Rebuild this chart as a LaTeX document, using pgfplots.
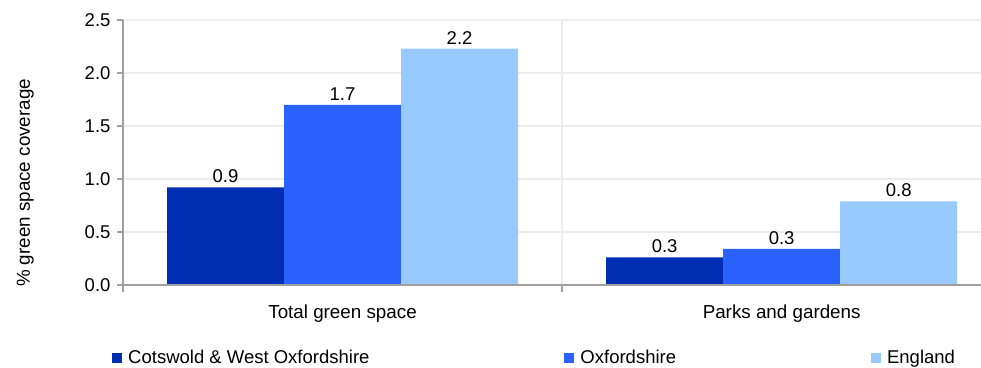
\documentclass[border=0pt]{standalone}
\usepackage{pgfplots}
\pgfplotsset{compat=1.18}
\usepackage{fontspec}
\setmainfont{Liberation Sans}
\definecolor{cdark}{RGB}{0,46,178}
\definecolor{cmed}{RGB}{41,98,255}
\definecolor{clight}{RGB}{153,202,255}
\definecolor{axgray}{RGB}{160,160,160}
\definecolor{gridgray}{RGB}{236,236,236}
\pgfplotsset{
 layers/mylayers/.define layer set={axis background,axis grid,pre main,main,axis ticks,axis lines,axis tick labels,axis descriptions,axis foreground}{
 grid style={/pgfplots/on layer=axis grid},
 tick style={/pgfplots/on layer=axis ticks},
 axis line style={/pgfplots/on layer=axis lines},
 label style={/pgfplots/on layer=axis descriptions},
 legend style={/pgfplots/on layer=axis descriptions},
 title style={/pgfplots/on layer=axis descriptions},
 colorbar style={/pgfplots/on layer=axis descriptions},
 ticklabel style={/pgfplots/on layer=axis tick labels},
 axis background@ style={/pgfplots/on layer=axis background},
 3d box foreground style={/pgfplots/on layer=axis foreground},
 },
}
\begin{document}
\begin{tikzpicture}
\begin{axis}[
 set layers=mylayers,
 name=ax,
 scale only axis, width=858pt, height=265pt,
 xmin=-0.5, xmax=1.454, ymin=0, ymax=2.5,
 axis x line*=bottom, axis y line*=left,
 axis line style={axgray, line width=1.6pt, -},
 tick align=outside,
 xtick={0,1}, xticklabels={Total green space, Parks and gardens},
 major x tick style={draw=none},
 minor xtick={-0.5,0.5},
 minor x tick style={axgray, line width=1.6pt},
 minor tick length=7pt,
 xminorgrids=true, xmajorgrids=false,
 ymajorgrids=true,
 grid style={gridgray, line width=1.6pt},
 ytick={0,0.5,1,1.5,2,2.5},
 y tick style={axgray, line width=1.6pt},
 major tick length=6pt,
 yticklabel style={/pgf/number format/fixed, /pgf/number format/fixed zerofill, /pgf/number format/precision=1, /pgf/number format/assume math mode=true, xshift=-3pt},
 ticklabel style={font=\fontsize{18.5}{21}\selectfont},
 xticklabel style={font=\fontsize{18.8}{22}\selectfont, yshift=-10pt},
 ylabel={\% green space coverage},
 ylabel style={at={(axis description cs:-0.114,0.385)}, anchor=center, font=\fontsize{18.8}{22}\selectfont},
 ybar=0pt, bar width=0.2665,
 nodes near coords,
 nodes near coords style={font=\fontsize{18.5}{21}\selectfont, /pgf/number format/fixed, /pgf/number format/fixed zerofill, /pgf/number format/precision=1, /pgf/number format/assume math mode=true, yshift=1pt},
 legend columns=3,
 legend style={draw=none, fill=none, at={(axis description cs:-0.0128,-0.275)}, anchor=west, inner sep=0pt,
   font=\fontsize{18.5}{21}\selectfont,
   /tikz/every odd column/.append style={column sep=4pt},
   /tikz/every even column/.append style={column sep=193pt}},
 legend image code/.code={\fill[#1,draw=none] (0pt,-5pt) rectangle (10pt,5pt);},
]
\addplot[fill=cdark, draw=none, bar shift=-0.2665] coordinates {(0,0.92) (1,0.26)};
\addplot[fill=cmed, draw=none, bar shift=0] coordinates {(0,1.70) (1,0.34)};
\addplot[fill=clight, draw=none, bar shift=0.2665] coordinates {(0,2.23) (1,0.79)};
\legend{Cotswold \& West Oxfordshire, Oxfordshire, England}
\end{axis}
\pgfresetboundingbox
\path[use as bounding box] ([xshift=-123pt,yshift=-83pt]ax.south west) rectangle ([yshift=20pt]ax.north east);
\end{tikzpicture}
\end{document}
